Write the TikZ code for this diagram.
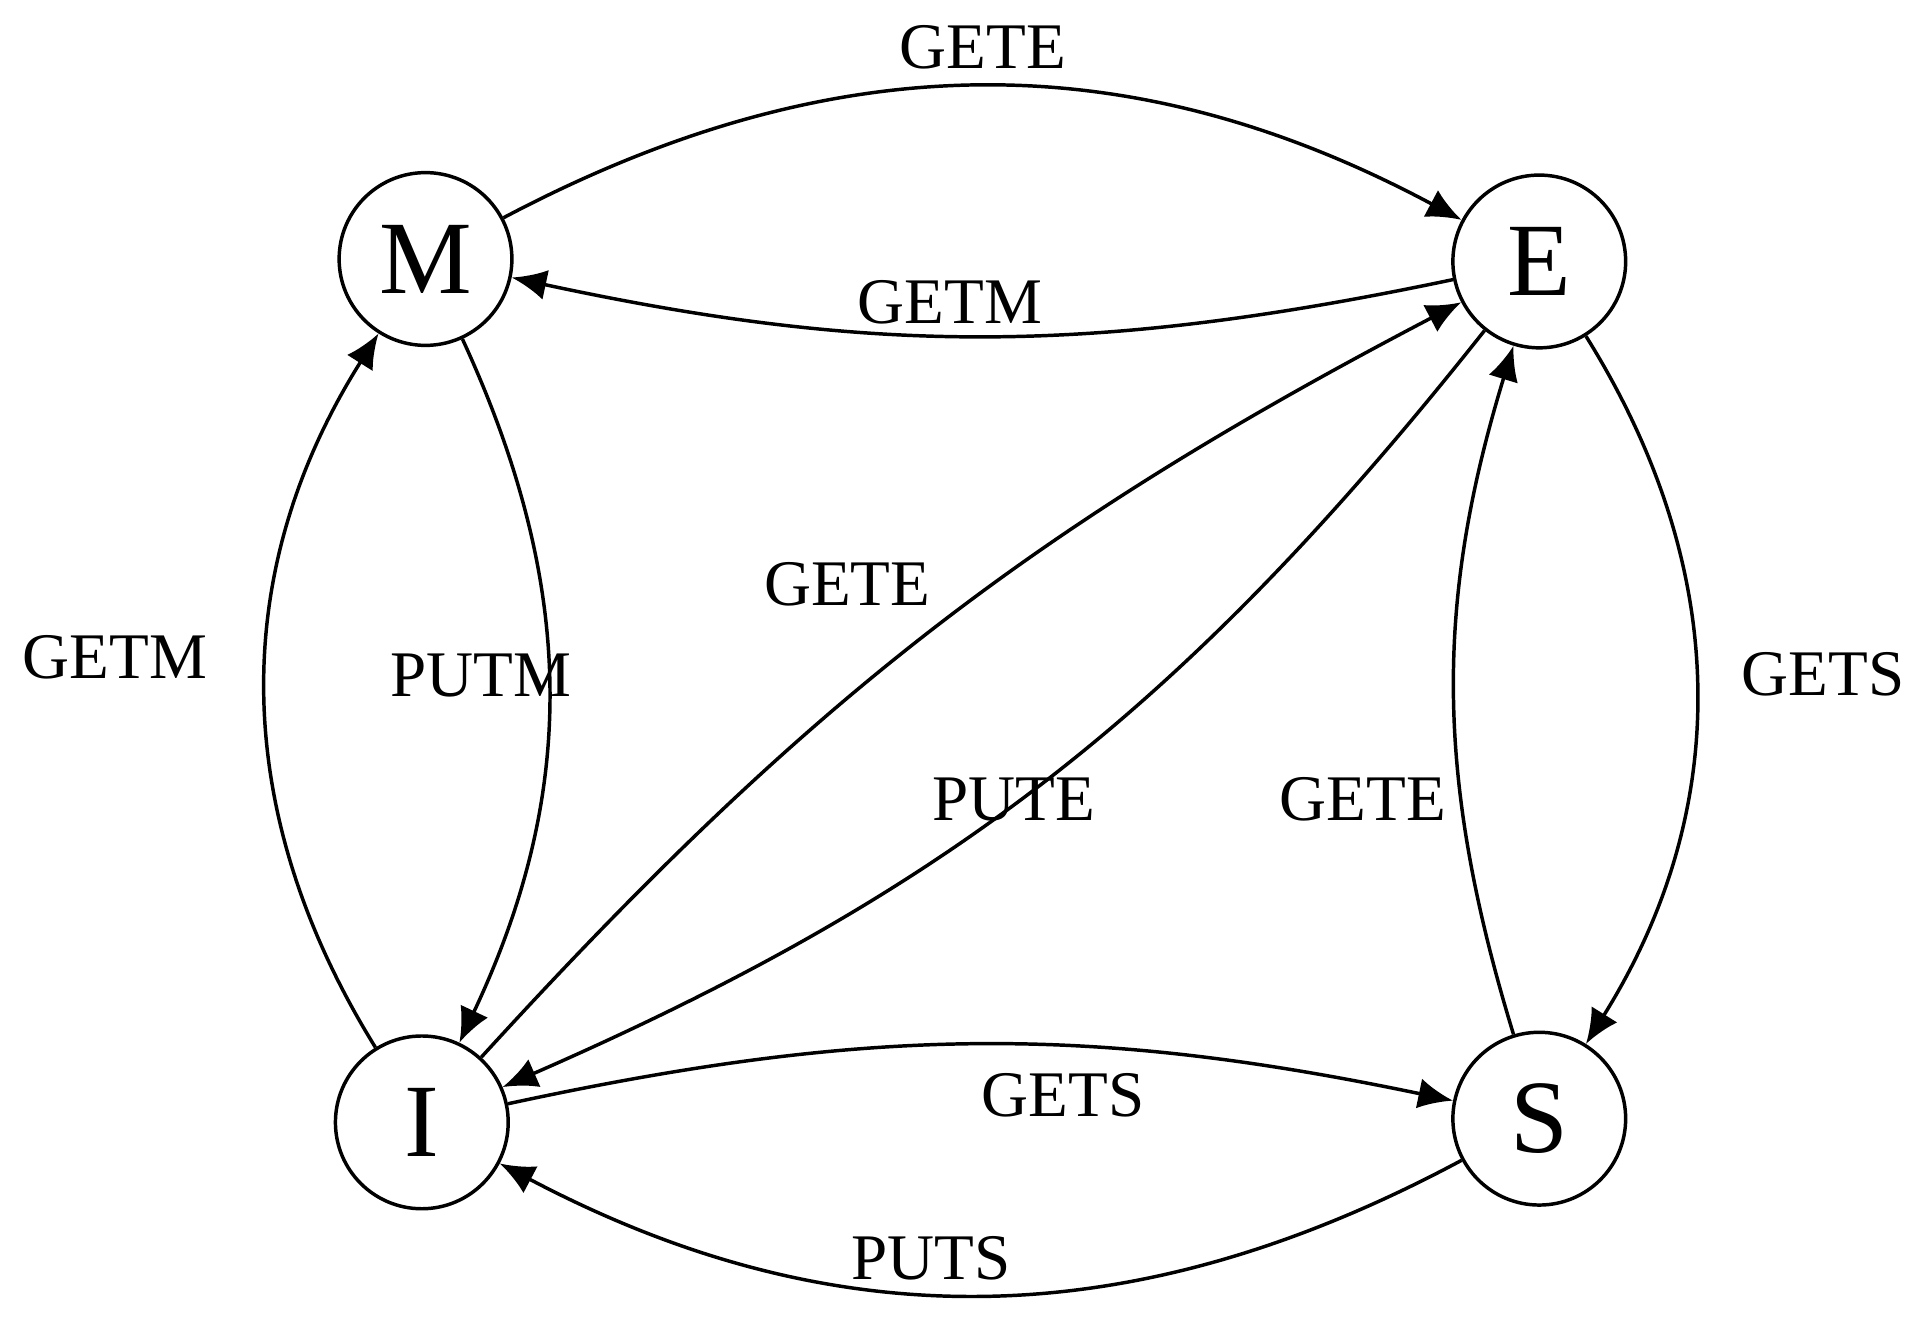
\documentclass[tikz,border=0pt]{standalone}
\usepackage{fontspec}
\setmainfont{Liberation Serif}
\usetikzlibrary{arrows.meta}
\begin{document}
\begin{tikzpicture}[x=0.01cm,y=-0.01cm,
  st/.style={circle,draw,line width=0.8pt,minimum size=1.4cm,inner sep=0pt,font=\fontsize{24}{28}\selectfont},
  lab/.style={font=\fontsize{15}{18}\selectfont},
  ed/.style={line width=0.8pt,-{Latex[length=8pt,width=7pt]}}]
\useasboundingbox (0,0) rectangle (1564,1080);
\node[st] (M) at (345,210) {M};
\node[st] (E) at (1248,212) {E};
\node[st] (I) at (342,910) {I};
\node[st] (S) at (1248,907) {S};
\draw[ed] (M) to[bend left=28] (E);
\draw[ed] (E) to[bend left=12] (M);
\draw[ed] (M) to[bend left=25] (I);
\draw[ed] (I) to[bend left=32] (M);
\draw[ed] (I) to[bend left=10] (E);
\draw[ed] (E) to[bend left=14] (I);
\draw[ed] (E) to[bend left=32] (S);
\draw[ed] (S) to[bend left=17] (E);
\draw[ed] (I) to[bend left=12] (S);
\draw[ed] (S) to[bend left=28] (I);
\node[lab] (l1) at (797,38) {GETE};
\node[lab] (l2) at (770,245) {GETM};
\node[lab] (l3) at (93,533) {GETM};
\node[lab] (l4) at (390,548) {PUTM};
\node[lab] (l5) at (687,474) {GETE};
\node[lab] (l6) at (822,648) {PUTE};
\node[lab] (l7) at (1105,648) {GETE};
\node[lab] (l8) at (1478,547) {GETS};
\node[lab] (l9) at (862,888) {GETS};
\node[lab] (l10) at (755,1020) {PUTS};
\end{tikzpicture}
\end{document}
